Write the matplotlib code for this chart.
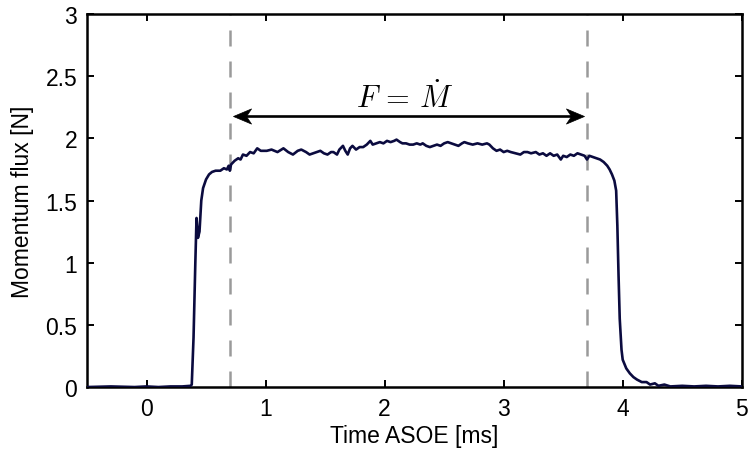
import matplotlib
matplotlib.use("Agg")
import matplotlib.pyplot as plt
from matplotlib.path import Path

plt.rcParams['font.family'] = ['Liberation Sans', 'DejaVu Sans']
plt.rcParams['mathtext.fontset'] = 'cm'

# Time ASOE [ms]
t = [-0.5, -0.3, -0.1, 0.0, 0.1, 0.2, 0.3, 0.37,
     0.38, 0.395, 0.41, 0.42, 0.432, 0.445, 0.46, 0.475, 0.50, 0.525, 0.55, 0.58,
     0.62, 0.65, 0.675, 0.69, 0.70, 0.71, 0.74, 0.77, 0.79, 0.81, 0.84, 0.87, 0.90,
     0.93, 0.96, 1.01, 1.05, 1.10, 1.15, 1.19, 1.23, 1.27, 1.30, 1.34, 1.37, 1.40,
     1.43, 1.46, 1.49, 1.52, 1.55, 1.57, 1.60, 1.62, 1.65, 1.67, 1.69, 1.71, 1.73,
     1.76, 1.79, 1.82, 1.85, 1.88, 1.90, 1.93, 1.96, 1.99, 2.02, 2.05, 2.08, 2.10,
     2.13, 2.15, 2.18, 2.21, 2.24, 2.27, 2.30, 2.32, 2.35, 2.38, 2.41, 2.44, 2.47,
     2.50, 2.53, 2.56, 2.59, 2.62, 2.65, 2.67, 2.70, 2.74, 2.78, 2.82, 2.86, 2.88,
     2.91, 2.94, 2.97, 3.00, 3.03, 3.06, 3.10, 3.14, 3.17, 3.20, 3.23, 3.27, 3.30,
     3.33, 3.36, 3.39, 3.42, 3.45, 3.48, 3.50, 3.53, 3.56, 3.59, 3.62, 3.65, 3.68,
     3.70, 3.72, 3.75, 3.78, 3.81, 3.84, 3.87, 3.89, 3.91, 3.93, 3.945, 3.955,
     3.965, 3.975, 3.99, 4.00, 4.03, 4.06, 4.09, 4.12, 4.16, 4.20, 4.23, 4.27,
     4.30, 4.35, 4.40, 4.50, 4.60, 4.70, 4.80, 4.90, 5.00]

# Momentum flux [N]
flux = [0.0, 0.005, 0.0, 0.005, 0.0, 0.005, 0.005, 0.01,
        0.02, 0.4, 1.0, 1.36, 1.2, 1.25, 1.5, 1.6, 1.67, 1.71, 1.73, 1.74,
        1.74, 1.76, 1.75, 1.78, 1.74, 1.79, 1.82, 1.84, 1.83, 1.87, 1.86, 1.89, 1.88,
        1.92, 1.90, 1.90, 1.91, 1.89, 1.92, 1.89, 1.87, 1.90, 1.91, 1.89, 1.87, 1.88,
        1.89, 1.90, 1.88, 1.87, 1.89, 1.89, 1.87, 1.91, 1.94, 1.90, 1.87, 1.92, 1.94,
        1.91, 1.93, 1.93, 1.95, 1.98, 1.95, 1.96, 1.97, 1.96, 1.98, 1.97, 1.98, 1.99,
        1.97, 1.96, 1.96, 1.95, 1.95, 1.96, 1.95, 1.96, 1.94, 1.93, 1.94, 1.95, 1.94,
        1.96, 1.97, 1.96, 1.95, 1.94, 1.96, 1.97, 1.96, 1.95, 1.96, 1.95, 1.96, 1.95,
        1.92, 1.90, 1.91, 1.89, 1.90, 1.89, 1.88, 1.87, 1.89, 1.89, 1.88, 1.89, 1.87,
        1.88, 1.86, 1.88, 1.86, 1.87, 1.83, 1.86, 1.85, 1.87, 1.86, 1.88, 1.87, 1.86,
        1.83, 1.86, 1.85, 1.84, 1.83, 1.81, 1.78, 1.75, 1.71, 1.66, 1.58, 1.3,
        0.9, 0.55, 0.3, 0.22, 0.15, 0.11, 0.08, 0.06, 0.04, 0.04, 0.02, 0.03,
        0.01, 0.02, 0.005, 0.01, 0.005, 0.01, 0.005, 0.01, 0.005]

window = [0.7, 3.7]
arrow_y = 2.18
label_pos = (2.17, 2.33)

fig = plt.figure(figsize=(7.5, 4.56), dpi=100)
ax = fig.add_axes([0.116, 0.149, 0.873, 0.818])

ax.plot(t, flux, color='#0b0b3f', lw=1.9, zorder=3)
for w in window:
    ax.axvline(w, color='#9a9a9a', lw=1.8, ls=(0, (6.4, 6.0)), zorder=2)

# double-headed arrow with concave (stealth) heads
left_head = Path([(0, 0), (1, 0.42), (0.72, 0), (1, -0.42), (0, 0)],
                 [Path.MOVETO, Path.LINETO, Path.LINETO, Path.LINETO, Path.CLOSEPOLY])
right_head = Path([(0, 0), (-1, 0.42), (-0.72, 0), (-1, -0.42), (0, 0)],
                  [Path.MOVETO, Path.LINETO, Path.LINETO, Path.LINETO, Path.CLOSEPOLY])
x0, x1 = window[0] + 0.025, window[1] - 0.025
ax.plot([x0 + 0.08, x1 - 0.08], [arrow_y, arrow_y], color='black', lw=1.9, zorder=4)
ax.plot([x0], [arrow_y], marker=left_head, markersize=26, color='black',
        markeredgewidth=0.5, zorder=5)
ax.plot([x1], [arrow_y], marker=right_head, markersize=26, color='black',
        markeredgewidth=0.5, zorder=5)

ax.text(label_pos[0], label_pos[1], r'$F\,=\,\dot{M}$', fontsize=22,
        ha='center', va='center')

ax.set_xlim(-0.5, 5)
ax.set_ylim(0, 3)
ax.set_xticks([0, 1, 2, 3, 4, 5])
ax.set_yticks([0, 0.5, 1, 1.5, 2, 2.5, 3])
ax.set_yticklabels(['0', '0.5', '1', '1.5', '2', '2.5', '3'])
ax.tick_params(direction='in', length=5, width=1.4, labelsize=16.5, pad=7,
               top=True, right=True)
for s in ax.spines.values():
    s.set_linewidth(1.8)
ax.set_xlabel('Time ASOE [ms]', fontsize=16.5, labelpad=3)
ax.set_ylabel('Momentum flux [N]', fontsize=16.5, labelpad=8)

fig.savefig('out.png', dpi=100)
